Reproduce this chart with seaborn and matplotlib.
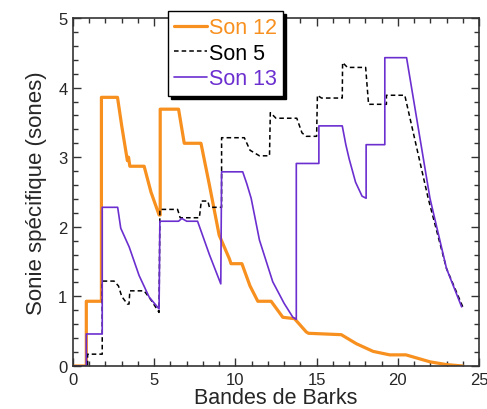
import numpy as np
import pandas as pd
import matplotlib
matplotlib.use("Agg")
import matplotlib.pyplot as plt
import seaborn as sns
from matplotlib.ticker import MultipleLocator

# Son 12 (orange, thick)
son12_x = [0, 0.82, 0.82, 1.75, 1.75, 2.74, 3.0, 3.3, 3.35, 3.42, 3.5, 4.38, 4.8, 5.3, 5.37,
           5.37, 6.5, 6.85, 7.88, 8.4, 9.0, 9.63, 9.73, 10.4, 10.9, 11.38, 12.2, 12.92,
           13.64, 14.36, 14.5, 16.52, 17.45, 18.48, 19.5, 20.5, 21.98, 23.0, 24.0]
son12_y = [0, 0, 0.93, 0.93, 3.86, 3.86, 3.45, 3.02, 2.95, 3.0, 2.87, 2.87, 2.5, 2.17, 2.17,
           3.69, 3.69, 3.2, 3.2, 2.6, 1.88, 1.54, 1.47, 1.47, 1.15, 0.93, 0.93, 0.70,
           0.68, 0.49, 0.47, 0.45, 0.32, 0.21, 0.16, 0.16, 0.06, 0.02, 0.0]

# Son 5 (black dashed)
son5_x = [0, 0.9, 0.9, 1.8, 1.8, 2.53, 2.8, 3.0, 3.35, 3.45, 3.5, 4.38, 4.8, 5.3, 5.35,
          6.44, 6.6, 7.78, 7.9, 8.3, 8.4, 9.15, 9.15, 10.55, 10.9, 11.48, 12.1, 12.15,
          12.5, 13.78, 14.1, 14.36, 15.0, 15.05, 15.3, 16.58, 16.6, 16.9, 18.02, 18.2,
          19.3, 19.3, 20.43, 21.87, 23.0, 24.0]
son5_y = [0, 0, 0.17, 0.17, 1.22, 1.22, 1.15, 1.0, 0.89, 0.89, 1.08, 1.08, 0.95, 0.77, 2.25,
          2.25, 2.13, 2.13, 2.37, 2.37, 2.28, 2.28, 3.28, 3.28, 3.1, 3.02, 3.02, 3.64,
          3.56, 3.56, 3.35, 3.30, 3.30, 3.89, 3.85, 3.85, 4.36, 4.29, 4.29, 3.76,
          3.76, 3.89, 3.89, 2.41, 1.40, 0.85]

# Son 13 (purple, thin)
son13_x = [0, 0.82, 0.82, 1.8, 1.8, 2.75, 2.94, 3.46, 4.07, 4.69, 5.3, 5.35, 6.5, 6.7, 7.0,
           7.67, 8.4, 9.1, 9.15, 10.45, 10.7, 10.97, 11.48, 12.3, 13.0, 13.54, 13.75, 13.75,
           15.14, 15.14, 16.58, 16.8, 17.0, 17.4, 17.8, 18.05, 18.05, 19.2, 19.2, 20.54,
           21.98, 23.0, 23.93]
son13_y = [0, 0, 0.46, 0.46, 2.28, 2.28, 1.98, 1.71, 1.30, 0.99, 0.82, 2.08, 2.08, 2.12, 2.08,
           2.08, 1.6, 1.18, 2.79, 2.79, 2.62, 2.41, 1.81, 1.21, 0.9, 0.70, 0.67, 2.91,
           2.91, 3.45, 3.45, 3.18, 2.98, 2.64, 2.44, 2.41, 3.18, 3.18, 4.43, 4.43,
           2.41, 1.40, 0.85]

orange = "#F7901E"
purple = "#6B2FD0"

sns.set_style("ticks")
plt.rcParams['font.family'] = ['Liberation Sans', 'DejaVu Sans']

fig = plt.figure(figsize=(4.87, 4.10), dpi=100)
ax = fig.add_axes([73 / 487, 1 - 367 / 410, 406 / 487, 348 / 410])

sns.lineplot(x=son12_x, y=son12_y, sort=False, estimator=None, color=orange,
             linewidth=2.3, label="Son 12", ax=ax)
sns.lineplot(x=son5_x, y=son5_y, sort=False, estimator=None, color="black",
             linewidth=1.1, label="Son 5", ax=ax)
ax.lines[-1].set_dashes([3, 2])
sns.lineplot(x=son13_x, y=son13_y, sort=False, estimator=None, color=purple,
             linewidth=1.2, label="Son 13", ax=ax)

ax.set_xlim(0, 25)
ax.set_ylim(0, 5)
ax.xaxis.set_major_locator(MultipleLocator(5))
ax.xaxis.set_minor_locator(MultipleLocator(1))
ax.yaxis.set_major_locator(MultipleLocator(1))
ax.yaxis.set_minor_locator(MultipleLocator(0.2))
ax.tick_params(which="both", direction="in", top=True, right=True,
               color="#333333", labelsize=12, pad=4)
ax.tick_params(which="major", length=6, width=1)
ax.tick_params(which="minor", length=3.5, width=1)
for s in ax.spines.values():
    s.set_color("#333333")
    s.set_linewidth(1.2)

ax.set_xlabel("Bandes de Barks", fontsize=15.5, labelpad=0)
ax.set_ylabel("Sonie spécifique (sones)", fontsize=16, labelpad=8)

leg = ax.legend(loc="upper left", bbox_to_anchor=(168 / 487, 1 - 12 / 410),
                bbox_transform=fig.transFigure, borderaxespad=0, fontsize=15.5,
                handlelength=1.5, handletextpad=0.1, labelspacing=0.2,
                borderpad=0.3, fancybox=False, framealpha=1, labelcolor="linecolor",
                shadow={"ox": 2.2, "oy": -2.2, "facecolor": "black",
                        "edgecolor": "black", "alpha": 1})
leg.get_frame().set_edgecolor("black")
leg.get_frame().set_linewidth(1.0)

fig.savefig("out.png", dpi=100)
